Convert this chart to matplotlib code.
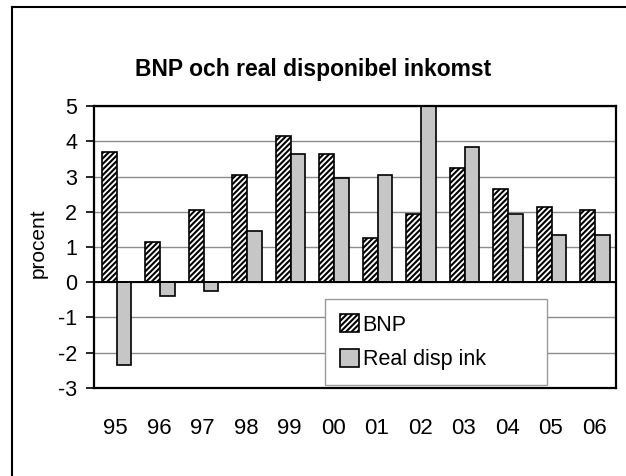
import numpy as np
import matplotlib
matplotlib.use("Agg")
import matplotlib.pyplot as plt
from matplotlib.lines import Line2D

plt.rcParams['font.family'] = ['Liberation Sans', 'DejaVu Sans']
plt.rcParams['hatch.linewidth'] = 1.5
plt.rcParams['axes.unicode_minus'] = False

TITLE = "BNP och real disponibel inkomst"
YEARS = ["95", "96", "97", "98", "99", "00", "01", "02", "03", "04", "05", "06"]

# annual growth, percent
BNP = [3.7, 1.15, 2.05, 3.05, 4.15, 3.65, 1.25, 1.95, 3.25, 2.65, 2.15, 2.05]
REAL_DISP_INK = [-2.35, -0.4, -0.25, 1.45, 3.65, 2.95, 3.05, 5.8, 3.85, 1.95, 1.35, 1.35]

BAR_WIDTH = 0.34
GRAY_FILL = "#c6c6c6"


def main():
    fig = plt.figure(figsize=(6.26, 4.76), dpi=100)
    ax = fig.add_axes([0.150, 0.185, 0.834, 0.592])

    x = np.arange(len(YEARS))

    ax.set_axisbelow(True)
    ax.yaxis.grid(True, color="#8c8c8c", linewidth=1.0)

    ax.bar(x - BAR_WIDTH / 2 + 0.02, BNP, BAR_WIDTH, color="white",
           edgecolor="black", hatch="//////", linewidth=1.2, label="BNP")
    ax.bar(x + BAR_WIDTH / 2 + 0.02, REAL_DISP_INK, BAR_WIDTH, color=GRAY_FILL,
           edgecolor="black", linewidth=1.2, label="Real disp ink")

    ax.axhline(0, color="black", linewidth=1.4, zorder=3)

    ax.set_xlim(-0.5, len(YEARS) - 0.5)
    ax.set_ylim(-3, 5)
    ax.set_yticks(range(-3, 6))
    ax.set_xticks(x)
    ax.set_xticklabels(YEARS)

    ax.tick_params(axis="y", direction="out", length=6, width=1.2,
                   pad=6, labelsize=15.5)
    ax.tick_params(axis="x", length=0, pad=22, labelsize=16)

    for spine in ax.spines.values():
        spine.set_linewidth(1.6)
        spine.set_color("black")

    fig.text(0.061, 0.49, "procent", rotation=90, ha="center", va="center",
             fontsize=15)
    fig.text(0.5, 0.853, TITLE, ha="center", va="center",
             fontsize=16.5, fontweight="bold")

    leg = ax.legend(loc="lower left", bbox_to_anchor=(0.4425, 0.01, 0.425, 0.3),
                    mode="expand", fontsize=15.5, handlelength=0.9,
                    handleheight=0.9, handletextpad=0.15, borderpad=0.7,
                    labelspacing=0.6, fancybox=False, framealpha=1.0,
                    borderaxespad=0)
    leg.get_frame().set_edgecolor("#9a9a9a")
    leg.get_frame().set_linewidth(1.0)
    leg.set_zorder(5)

    # outer border of the chart area
    fig.add_artist(Line2D([12 / 626, 12 / 626], [0, 1 - 7 / 476],
                          transform=fig.transFigure, color="black", linewidth=1.5))
    fig.add_artist(Line2D([12 / 626, 1.0], [1 - 7 / 476, 1 - 7 / 476],
                          transform=fig.transFigure, color="black", linewidth=1.5))

    fig.savefig("out.png", dpi=100)


if __name__ == "__main__":
    main()
